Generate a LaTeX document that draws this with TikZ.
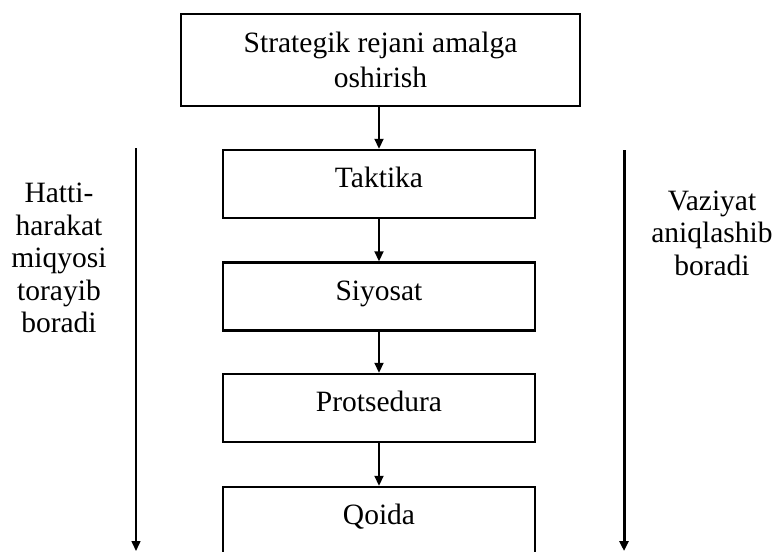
\documentclass[tikz,border=0pt]{standalone}
\usepackage{fontspec}
\setmainfont{Liberation Serif}
\usetikzlibrary{arrows.meta}
\begin{document}
\begin{tikzpicture}[x=1pt,y=-1pt,
  stagebox/.style={draw=black,line width=2.4pt,inner sep=0pt,
    minimum width=312pt,minimum height=68pt,
    font=\fontsize{29.5}{35}\selectfont,text height=21pt,text depth=14pt},
  flowarrow/.style={line width=1.8pt,-{Triangle[width=9pt,length=10pt]}},
  sidetext/.style={align=center,inner sep=0pt,font=\fontsize{29.5}{32.5}\selectfont}]
\useasboundingbox (0,0) rectangle (780,552);
\node[draw=black,line width=2.4pt,inner sep=0pt,minimum width=399pt,minimum height=92pt,
  align=center,font=\fontsize{29.5}{35}\selectfont] (b1) at (380.5,60)
  {Strategik rejani amalga\\oshirish};
\node[stagebox] (b2) at (379,184) {Taktika};
\node[stagebox] (b3) at (379,296.5) {Siyosat};
\node[stagebox] (b4) at (379,408) {Protsedura};
\node[stagebox] (b5) at (379,521) {Qoida};
\draw[flowarrow] (b1.south -| b2.north) -- (b2.north);
\draw[flowarrow] (b2) -- (b3);
\draw[flowarrow] (b3) -- (b4);
\draw[flowarrow] (b4) -- (b5);
\coordinate (ls) at (136,148);
\coordinate (le) at (136,551);
\coordinate (rs) at (624,150);
\coordinate (re) at (624,551);
\draw[line width=1.5pt,-{Triangle[width=9pt,length=10pt]}] (ls) -- (le);
\draw[line width=3pt,-{Triangle[width=9pt,length=10pt]}] (rs) -- (re);
\node[sidetext] (lt) at (59,258) {Hatti-\\harakat\\miqyosi\\torayib\\boradi};
\node[sidetext] (rt) at (712,233) {Vaziyat\\aniqlashib\\boradi};
\end{tikzpicture}
\end{document}
